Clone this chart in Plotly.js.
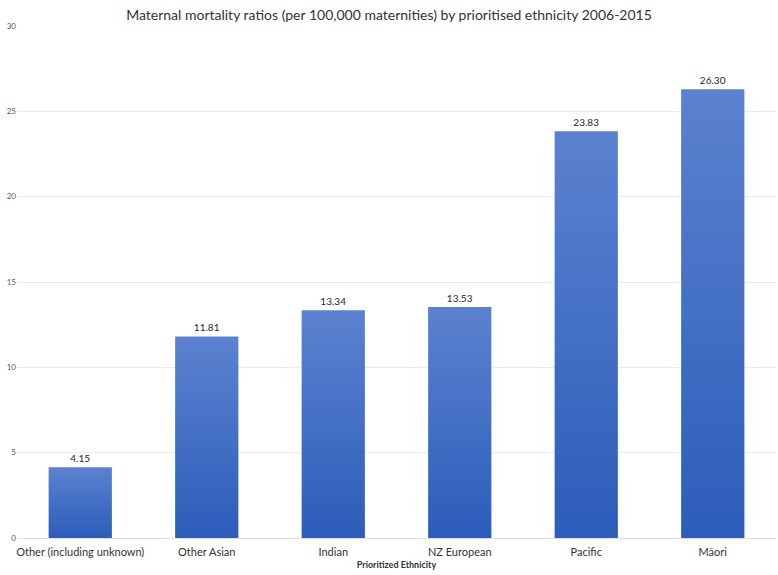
<!DOCTYPE html>
<html>
<head>
<meta charset="utf-8">
<script src="https://cdn.plot.ly/plotly-3.0.1.min.js"></script>
<style>html,body{margin:0;padding:0;background:#fff;}#chart{width:778px;height:575px;}</style>
</head>
<body>
<div id="chart"></div>
<script>
const categories = ["Other (including unknown)", "Other Asian", "Indian", "NZ European", "Pacific", "Māori"];
const ratios = [4.15, 11.81, 13.34, 13.53, 23.83, 26.30];
const valueLabels = ["4.15", "11.81", "13.34", "13.53", "23.83", "26.30"];
const yTicks = [0, 5, 10, 15, 20, 25, 30];

const trace = {
  type: "bar",
  x: categories,
  y: ratios,
  text: valueLabels,
  textposition: "outside",
  cliponaxis: false,
  textfont: {family: "Lato, 'Open Sans', sans-serif", size: 10, color: "#262626"},
  marker: {color: "#4472C4", line: {width: 0}},
  width: 0.5,
  hoverinfo: "x+y"
};

const layout = {
  width: 778, height: 575,
  margin: {l: 17, r: 2, t: 26, b: 37},
  paper_bgcolor: "#fff", plot_bgcolor: "#fff",
  title: {
    text: "Maternal mortality ratios (per 100,000 maternities) by prioritised ethnicity 2006-2015",
    font: {family: "Lato, 'Open Sans', sans-serif", size: 14, color: "#333"},
    x: 0.5, xanchor: "center", y: 0.982, yanchor: "top"
  },
  xaxis: {
    type: "category",
    showline: false, ticks: "", showgrid: false,
    ticklabelstandoff: 6,
    tickfont: {family: "Lato, 'Open Sans', sans-serif", size: 11, color: "#333"},
    title: {text: "<b>Prioritized Ethnicity</b>", font: {family: "Lato, 'Open Sans', sans-serif", size: 9, color: "#333"}, standoff: 4}
  },
  yaxis: {
    range: [0, 30],
    tickvals: yTicks,
    ticktext: yTicks.map(String),
    showgrid: true, gridcolor: "#ebebeb", gridwidth: 1,
    zeroline: true, zerolinecolor: "#dedede", zerolinewidth: 1,
    showline: false, ticks: "",
    tickfont: {family: "Lato, 'Open Sans', sans-serif", size: 8, color: "#595959"}
  },
  bargap: 0.5,
  showlegend: false
};

function addGradient(gd) {
  const svg = gd.querySelector("svg.main-svg");
  if (!svg) return;
  let defs = svg.querySelector("defs");
  if (!svg.querySelector("#barGrad")) {
    const ns = "http://www.w3.org/2000/svg";
    const lg = document.createElementNS(ns, "linearGradient");
    lg.setAttribute("id", "barGrad");
    lg.setAttribute("x1", "0"); lg.setAttribute("y1", "0");
    lg.setAttribute("x2", "0"); lg.setAttribute("y2", "1");
    const s1 = document.createElementNS(ns, "stop");
    s1.setAttribute("offset", "0"); s1.setAttribute("stop-color", "#5B82CF");
    const s2 = document.createElementNS(ns, "stop");
    s2.setAttribute("offset", "1"); s2.setAttribute("stop-color", "#2C5DBA");
    lg.appendChild(s1); lg.appendChild(s2);
    defs.appendChild(lg);
  }
  gd.querySelectorAll(".bars .point path").forEach(p => {
    p.style.fill = "url(#barGrad)";
  });
}

Plotly.newPlot("chart", [trace], layout, {displayModeBar: false, responsive: false}).then(gd => {
  addGradient(gd);
  gd.on("plotly_afterplot", () => addGradient(gd));
});
</script>
</body>
</html>
